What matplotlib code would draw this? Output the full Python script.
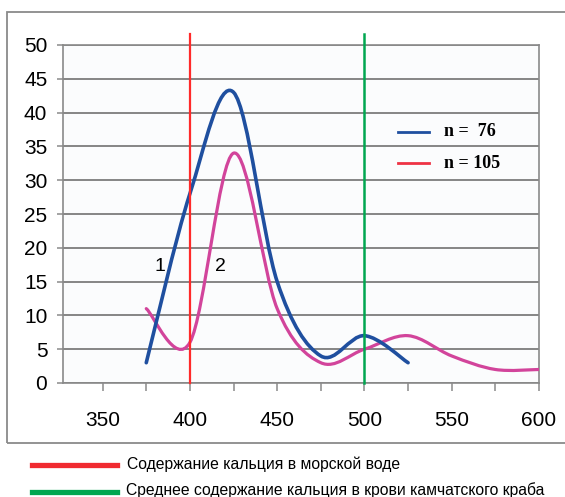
import matplotlib
matplotlib.use("Agg")
import matplotlib.pyplot as plt
import numpy as np
from matplotlib.path import Path
from matplotlib.patches import PathPatch, Rectangle
from matplotlib.lines import Line2D

# ---- data ----
x_blue = [375, 400, 425, 450, 475, 500, 525]
y_blue = [3, 28, 43, 15, 4, 7, 3]
x_pink = [375, 400, 425, 450, 475, 500, 525, 550, 575, 600]
y_pink = [11, 6, 34, 11, 3, 5, 7, 4, 2, 2]
sea_water = 400
crab_blood = 500
series_labels = ["n =  76", "n = 105"]
bottom_labels = ["Содержание кальция в морской воде",
                 "Среднее содержание кальция в крови камчатского краба"]
x_ticks = [350, 400, 450, 500, 550, 600]
x_minor = [375, 425, 475, 525, 575]
y_ticks = list(range(0, 51, 5))

plt.rcParams['font.family'] = ['Liberation Sans', 'DejaVu Sans']

BLUE = '#1f4f9f'
PINK = '#d2449b'
RED = '#ff2a2a'
GREEN = '#00a650'
GRID = '#7c7c7c'


def smooth_path(xs, ys):
    """Excel-like smoothed line: cubic Bezier through the points."""
    pts = np.column_stack([xs, ys]).astype(float)
    n = len(pts)
    verts = [pts[0]]
    codes = [Path.MOVETO]
    for i in range(n - 1):
        p0 = pts[i - 1] if i > 0 else pts[i]
        p1 = pts[i]
        p2 = pts[i + 1]
        p3 = pts[i + 2] if i + 2 < n else pts[i + 1]
        c1 = p1 + (p2 - p0) / 6.0
        c2 = p2 - (p3 - p1) / 6.0
        verts += [c1, c2, p2]
        codes += [Path.CURVE4] * 3
    return Path(verts, codes)


fig = plt.figure(figsize=(5.65, 4.97), dpi=100)
fig.patch.set_facecolor('white')

# outer chart frame
frame = Rectangle((7 / 565, 1 - 443 / 497), 1.2, (443 - 12) / 497,
                  transform=fig.transFigure, fill=False,
                  edgecolor='#8a8a8a', lw=1.3, zorder=0)
fig.add_artist(frame)

ax = fig.add_axes([63 / 565, 1 - 383 / 497, (539 - 63) / 565, (383 - 45) / 497])
ax.set_facecolor('#fbfcfd')
ax.set_xlim(327.3, 600)
ax.set_ylim(0, 50)

for s in ax.spines.values():
    s.set_color('#8a8a8a')
    s.set_linewidth(1.2)

ax.set_yticks(y_ticks)
ax.yaxis.grid(True, color=GRID, lw=1.3)
ax.set_axisbelow(True)
ax.set_xticks(x_ticks)
ax.set_xticks(x_minor, minor=True)
ax.tick_params(axis='y', direction='out', length=4.3, width=1.1, color='#8a8a8a',
               labelsize=15, pad=7)
ax.tick_params(axis='x', which='both', direction='out', length=5.5, width=1.1,
               color='#8a8a8a', labelsize=15, pad=15)

# curves
ax.add_patch(PathPatch(smooth_path(x_pink, y_pink), fill=False, edgecolor=PINK,
                       lw=2.3, zorder=3, capstyle='round'))
ax.add_patch(PathPatch(smooth_path(x_blue, y_blue), fill=False, edgecolor=BLUE,
                       lw=2.6, zorder=4, capstyle='round'))

# vertical reference lines
ax.plot([sea_water, sea_water], [0, 51.6], color=RED, lw=1.6, clip_on=False, zorder=5)
ax.plot([crab_blood, crab_blood], [0, 51.7], color=GREEN, lw=1.8, clip_on=False, zorder=5)

# curve labels
ax.text(382.8, 17.2, "1", fontsize=14, ha='center', va='center')
ax.text(417.5, 17.2, "2", fontsize=14, ha='center', va='center')

# in-plot legend
ax.plot([519.5, 537], [37.2, 37.2], color=BLUE, lw=2, zorder=6)
ax.plot([519.5, 537], [32.5, 32.5], color='#ee3344', lw=2, zorder=6)
ax.text(545.5, 37.2, series_labels[0], fontsize=13, fontweight='bold',
        family=['Liberation Serif'], va='center', ha='left')
ax.text(545.5, 32.5, series_labels[1], fontsize=13, fontweight='bold',
        family=['Liberation Serif'], va='center', ha='left')

# bottom legend
fig.add_artist(Line2D([32 / 565, 117 / 565], [1 - 465 / 497] * 2, color='#f02a30',
                      lw=3.8, transform=fig.transFigure))
fig.add_artist(Line2D([32 / 565, 117 / 565], [1 - 491.5 / 497] * 2, color='#00a650',
                      lw=3.8, transform=fig.transFigure))
fig.text(127 / 565, 1 - 469.5 / 497, bottom_labels[0], fontsize=11.3, va='baseline', ha='left')
fig.text(126 / 565, 1 - 494.5 / 497, bottom_labels[1], fontsize=11.3, va='baseline', ha='left')

fig.savefig('out.png', dpi=100)
